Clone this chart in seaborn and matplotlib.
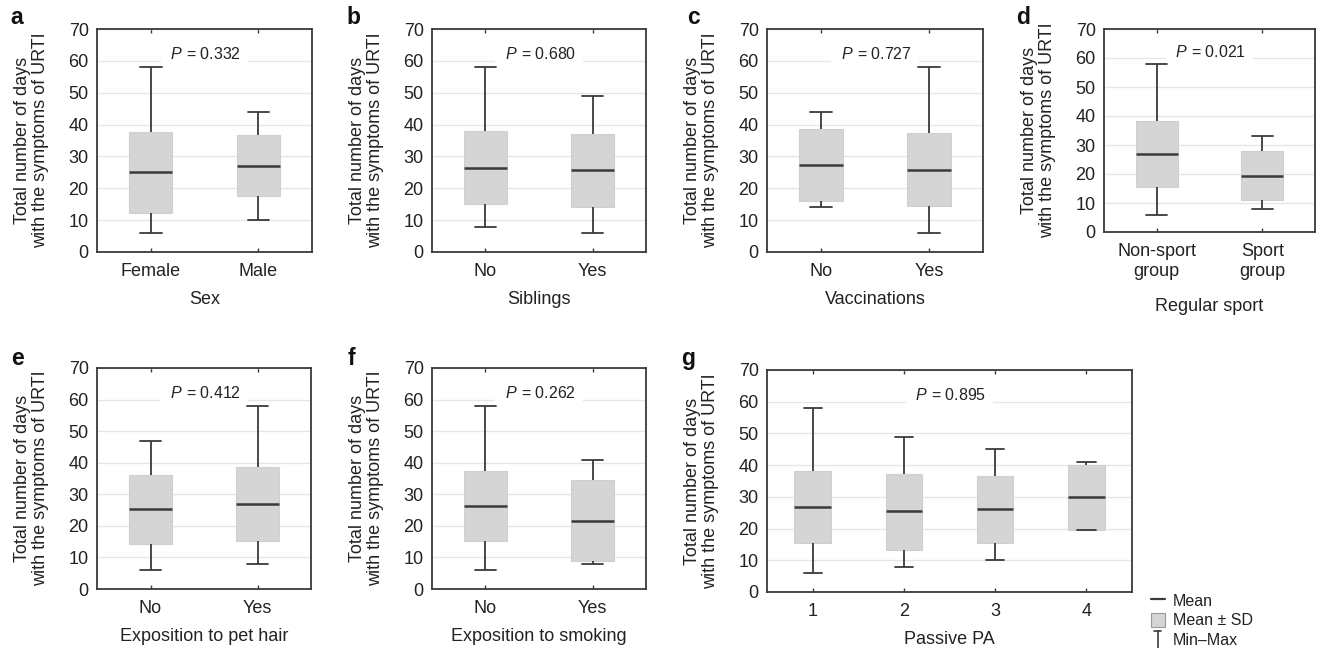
import numpy as np
import pandas as pd
import matplotlib
matplotlib.use("Agg")
import matplotlib.pyplot as plt
import seaborn as sns
from matplotlib.lines import Line2D
from matplotlib.patches import Patch
from matplotlib.legend_handler import HandlerBase

# ---------------- data (min, mean-SD, mean, mean+SD, max) ----------------
sex_cats = ["Female", "Male"]
sex_min = [6, 10]
sex_lo = [12.3, 17.5]
sex_mean = [25.0, 27.0]
sex_hi = [37.7, 36.8]
sex_max = [58, 44]

sib_cats = ["No", "Yes"]
sib_min = [8, 6]
sib_lo = [15.2, 14.2]
sib_mean = [26.5, 25.6]
sib_hi = [38.0, 37.1]
sib_max = [58, 49]

vac_cats = ["No", "Yes"]
vac_min = [14, 6]
vac_lo = [16.0, 14.5]
vac_mean = [27.4, 25.8]
vac_hi = [38.7, 37.3]
vac_max = [44, 58]

sport_cats = ["Non-sport\ngroup", "Sport\ngroup"]
sport_min = [6, 8]
sport_lo = [15.5, 10.9]
sport_mean = [26.9, 19.4]
sport_hi = [38.3, 27.9]
sport_max = [58, 33]

pet_cats = ["No", "Yes"]
pet_min = [6, 8]
pet_lo = [14.2, 15.3]
pet_mean = [25.2, 27.0]
pet_hi = [36.2, 38.8]
pet_max = [47, 58]

smk_cats = ["No", "Yes"]
smk_min = [6, 8]
smk_lo = [15.2, 8.8]
smk_mean = [26.3, 21.6]
smk_hi = [37.5, 34.4]
smk_max = [58, 41]

pa_cats = ["1", "2", "3", "4"]
pa_min = [6, 8, 10, 19.7]
pa_lo = [15.3, 13.4, 15.6, 19.7]
pa_mean = [26.8, 25.4, 26.2, 29.9]
pa_hi = [38.1, 37.1, 36.7, 39.9]
pa_max = [58, 49, 45, 41]

p_values = ["0.332", "0.680", "0.727", "0.021", "0.412", "0.262", "0.895"]
x_titles = ["Sex", "Siblings", "Vaccinations", "Regular sport",
            "Exposition to pet hair", "Exposition to smoking", "Passive PA"]
letters = ["a", "b", "c", "d", "e", "f", "g"]
y_title = "Total number of days\nwith the symptoms of URTI"

panels = [
    (sex_cats, sex_min, sex_lo, sex_mean, sex_hi, sex_max),
    (sib_cats, sib_min, sib_lo, sib_mean, sib_hi, sib_max),
    (vac_cats, vac_min, vac_lo, vac_mean, vac_hi, vac_max),
    (sport_cats, sport_min, sport_lo, sport_mean, sport_hi, sport_max),
    (pet_cats, pet_min, pet_lo, pet_mean, pet_hi, pet_max),
    (smk_cats, smk_min, smk_lo, smk_mean, smk_hi, smk_max),
    (pa_cats, pa_min, pa_lo, pa_mean, pa_hi, pa_max),
]

# ---------------- style ----------------
sns.set_theme(style="white")
plt.rcParams["font.family"] = ["Liberation Sans", "DejaVu Sans"]
plt.rcParams["mathtext.fontset"] = "custom"
plt.rcParams["mathtext.rm"] = "Liberation Sans"
plt.rcParams["mathtext.it"] = "Liberation Sans:italic"

W, H = 1323, 648
fig = plt.figure(figsize=(W / 100, H / 100), dpi=100)

# axes rectangles in pixels: left, top, right, bottom
rects = [
    (97, 29, 312, 252),
    (432, 29, 646, 252),
    (767, 29, 983, 252),
    (1104, 29, 1315, 232),
    (97, 368, 311, 589),
    (432, 368, 646, 589),
    (767, 370, 1132, 592),
]
xlabel_pads = [8, 8, 8, 13, 8, 8, 8]
letter_pos = [(10, 24), (346, 24), (687, 24), (1016, 24),
              (11, 365), (348, 365), (681, 365)]

DARK = "#3a3a3a"
BOXC = "#d5d5d5"

for i, (cats, mn, lo, me, hi, mx) in enumerate(panels):
    l, t, r, b = rects[i]
    ax = fig.add_axes([l / W, 1 - b / H, (r - l) / W, (b - t) / H])
    rows = []
    for c, a1, a2, a3, a4, a5 in zip(cats, mn, lo, me, hi, mx):
        for v in (a1, a2, a3, a4, a5):
            rows.append({"group": c, "value": v})
    df = pd.DataFrame(rows)
    sns.boxplot(data=df, x="group", y="value", order=cats, ax=ax,
                whis=(0, 100), width=0.4, showfliers=False,
                color=BOXC, linecolor=DARK, linewidth=1.3,
                boxprops=dict(edgecolor="#cfcfcf", linewidth=0.8),
                medianprops=dict(color=DARK, linewidth=1.8),
                whiskerprops=dict(color=DARK, linewidth=1.3),
                capprops=dict(color=DARK, linewidth=1.3))
    ax.set_xlim(-0.5, len(cats) - 0.5)
    ax.set_ylim(0, 70)
    ax.set_yticks(range(0, 71, 10))
    ax.yaxis.grid(True, color="#e6e6e6", linewidth=1.0)
    ax.xaxis.grid(False)
    ax.set_axisbelow(True)
    for s in ax.spines.values():
        s.set_color(DARK)
        s.set_linewidth(1.3)
        s.set_visible(True)
    ax.tick_params(axis="x", direction="in", length=3, width=1, color=DARK,
                   top=True, bottom=True, labelsize=13, pad=8,
                   labelcolor="#222222")
    ax.tick_params(axis="y", length=0, labelsize=13, pad=6,
                   labelcolor="#222222")
    ax.set_xlabel(x_titles[i], fontsize=13, labelpad=xlabel_pads[i],
                  color="#222222")
    ax.set_ylabel(y_title, fontsize=13, color="#222222", linespacing=1.05)
    ax.yaxis.set_label_coords(-48 / (r - l), 0.5)
    ax.text(0.5, 62, "  $P$ = " + p_values[i] + "  ",
            transform=ax.get_yaxis_transform(), ha="center", va="center",
            fontsize=11.5, color="#222222", zorder=1.5,
            bbox=dict(boxstyle="square,pad=0.1", fc="white", ec="none"))
    lx, ly = letter_pos[i]
    fig.text(lx / W, 1 - ly / H, letters[i], fontsize=16.5, fontweight="bold",
             va="baseline", ha="left", color="#111111")


class IBeamHandler(HandlerBase):
    def create_artists(self, legend, orig_handle, xdescent, ydescent,
                       width, height, fontsize, trans):
        cx = width / 2 - xdescent
        y0 = -ydescent - 0.2 * height
        y1 = height - ydescent + 0.1 * height
        cw = width * 0.25
        arts = [
            Line2D([cx, cx], [y0, y1], color=DARK, lw=1.2),
            Line2D([cx - cw, cx + cw], [y0, y0], color=DARK, lw=1.2),
            Line2D([cx - cw, cx + cw], [y1, y1], color=DARK, lw=1.2),
        ]
        for a in arts:
            a.set_transform(trans)
        return arts


class MinMaxKey:
    pass


h_mean = Line2D([], [], color=DARK, lw=1.6)
h_sd = Patch(facecolor=BOXC, edgecolor="#9a9a9a", linewidth=0.8)
h_mm = MinMaxKey()
fig.legend([h_mean, h_sd, h_mm], ["Mean", "Mean \u00b1 SD", "Min\u2013Max"],
           handler_map={MinMaxKey: IBeamHandler()},
           loc="upper left", bbox_to_anchor=(1151 / W, 1 - 593 / H),
           frameon=False, borderpad=0, borderaxespad=0, fontsize=11.5,
           handlelength=0.85, handleheight=1.0, handletextpad=0.5,
           labelspacing=0.25, labelcolor="#222222")

fig.savefig("out.png", dpi=100)
